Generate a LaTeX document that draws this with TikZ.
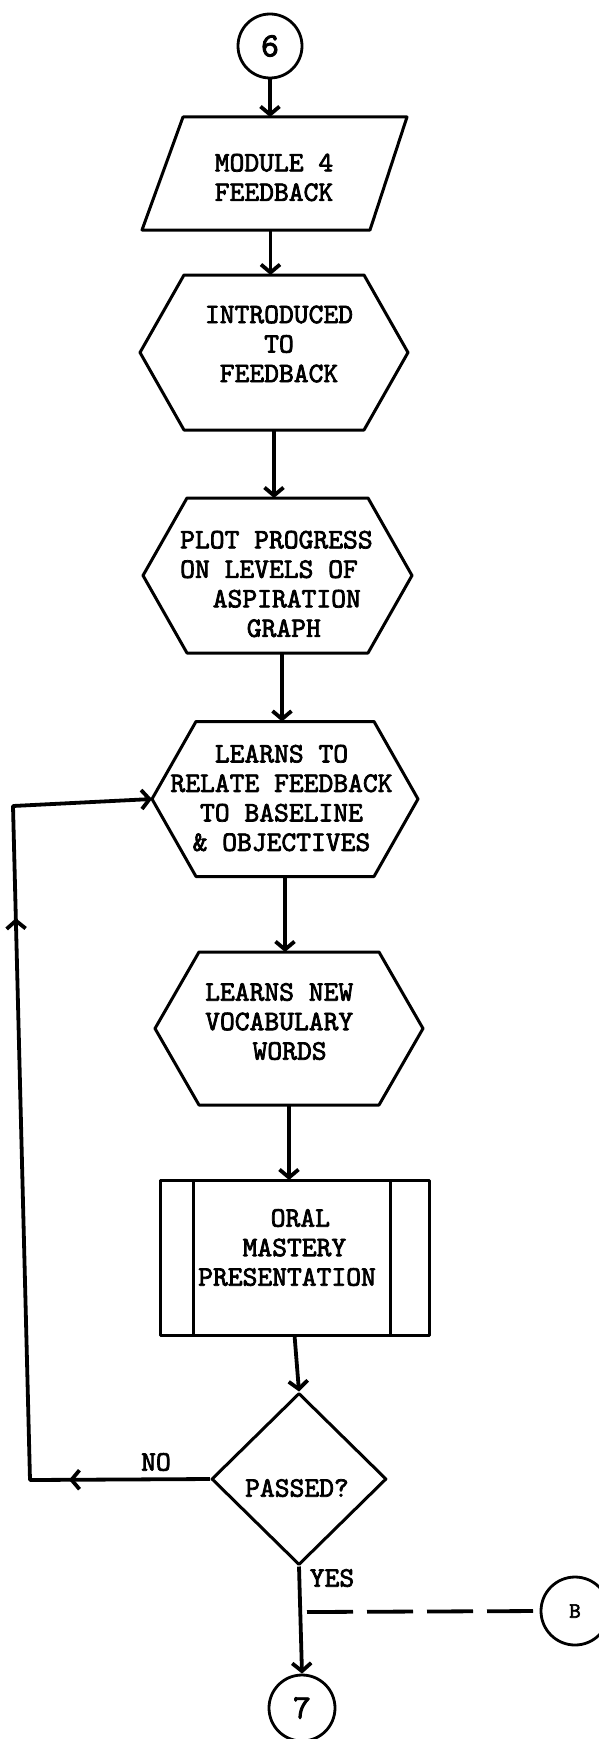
\documentclass[tikz,border=0pt]{standalone}
\usepackage{fontspec}
\usetikzlibrary{arrows.meta,shapes.geometric,decorations.markings}
\newfontfamily\tw{lmmono10-regular}[Extension=.otf,FakeBold=2.6]
% indent a typed line by a number of character columns
\newcommand\ind[1]{\hspace*{#1\fontcharwd\font`M}}
% six-sided process outline around an (empty) frame node
\newcommand\hexoutline[1]{\draw[outline] (#1.west) -- ([xshift=44pt]#1.north west) -- ([xshift=-44pt]#1.north east) -- (#1.east) -- ([xshift=-44pt]#1.south east) -- ([xshift=44pt]#1.south west) -- cycle;}
\tikzset{
  outline/.style={line width=3pt, line join=round},
  frame/.style={inner sep=0pt, outer sep=0pt},
  typed/.style={font={\tw\fontsize{28.2pt}{29.5pt}\selectfont}, inner sep=0pt},
  conn/.style={line width=3.8pt, -{Straight Barb[length=8pt,width=19pt]}},
  connector/.style={circle, draw, line width=2.8pt, inner sep=0pt, minimum size=65pt,
    font={\tw\fontsize{34pt}{36pt}\selectfont}},
}
\begin{document}
\begin{tikzpicture}[x=1pt, y=-1pt, line join=round]
\fill[white] (0,0) rectangle (599,1739);
\useasboundingbox (0,0) rectangle (599,1739);

% entry connector
\node[connector, minimum size=64pt] (c6) at (270,46) {6};

% input: module 4 feedback
\node[frame, minimum width=265pt, minimum height=113pt] (mod) at (274.5,173.5) {};
\draw[outline] ([xshift=41pt]mod.north west) -- (mod.north east) -- ([xshift=-37pt]mod.south east) -- (mod.south west) -- cycle;
\node[typed, align=center] (modtxt) at (274,177.5) {MODULE 4\\FEEDBACK};

% process steps
\node[frame, minimum width=268pt, minimum height=155pt] (intro) at (274,352.5) {};
\hexoutline{intro}
\node[typed, align=center] (introtxt) at (279,344) {INTRODUCED\\TO\\FEEDBACK};

\node[frame, minimum width=269pt, minimum height=155pt] (plot) at (277.5,575.5) {};
\hexoutline{plot}
\node[typed, align=left, anchor=west] (plottxt) at (180,584) {PLOT PROGRESS\\ON LEVELS OF\\\ind{2.2}ASPIRATION\\\ind{4.5}GRAPH};

\node[frame, minimum width=266pt, minimum height=155pt] (relate) at (285,799) {};
\hexoutline{relate}
\node[typed, align=center] (relatetxt) at (281.5,798) {LEARNS TO\\RELATE FEEDBACK\\TO BASELINE\\\& OBJECTIVES};

\node[frame, minimum width=268pt, minimum height=153pt] (vocab) at (289,1028.5) {};
\hexoutline{vocab}
\node[typed, align=left, anchor=west] (vocabtxt) at (205,1021.5) {LEARNS NEW\\VOCABULARY\\\ind{3.2}WORDS};

% predefined process
\node[frame, draw, outline, minimum width=269pt, minimum height=155pt] (oral) at (294.5,1257.5) {};
\draw[outline] ([xshift=33pt]oral.north west) -- ([xshift=33pt]oral.south west);
\draw[outline] ([xshift=-39pt]oral.north east) -- ([xshift=-39pt]oral.south east);
\node[typed, align=left, anchor=west] (oraltxt) at (198,1247.5) {\ind{4.9}ORAL\\\ind{3}MASTERY\\PRESENTATION};

% decision
\node[diamond, draw, outline, inner sep=0pt, minimum width=175pt, minimum height=172pt] (pass) at (299,1479) {};
\node[typed] (passtxt) at (297,1488) {PASSED?};
\node[typed] (notxt) at (156,1462) {NO};
\node[typed] (yestxt) at (332,1578) {YES};

% exit connectors
\node[connector, minimum size=66pt] (c7) at (302,1708) {7};
\node[connector, minimum size=68pt, font={\tw\fontsize{22pt}{24pt}\selectfont}] (cB) at (575,1611) {B};

% flow lines
\draw[conn] (c6.south) -- (c6.south |- mod.north);
\draw[conn] ([xshift=-4pt]mod.south) -- ([xshift=-4pt]mod.south |- intro.north);
\draw[conn] (intro.south) -- (intro.south |- plot.north);
\draw[conn] ([xshift=4.5pt]plot.south) -- ([xshift=4.5pt]plot.south |- relate.north);
\draw[conn] (relate.south) -- (relate.south |- vocab.north);
\draw[conn] (vocab.south) -- (vocab.south |- oral.north);
\draw[conn] (oral.south) -- (pass.north);
\draw[conn] (pass.south) -- (c7.north);

% return loop for NO
\coordinate (loopSW) at (30,1480);
\coordinate (loopNW) at (13,806);
\draw[conn, postaction={decorate}, decoration={markings,
    mark=at position 141pt with {\arrow{Straight Barb[length=8pt,width=19pt]}},
    mark=at position 742pt with {\arrow{Straight Barb[length=8pt,width=19pt]}}}]
  (pass.west) -- (loopSW) -- (loopNW) -- (relate.west);

% dashed link to B
\coordinate (tap) at (307,1612);
\draw[line width=3.8pt, dash pattern=on 46pt off 14pt] (tap) -- (cB.west);
\end{tikzpicture}
\end{document}
